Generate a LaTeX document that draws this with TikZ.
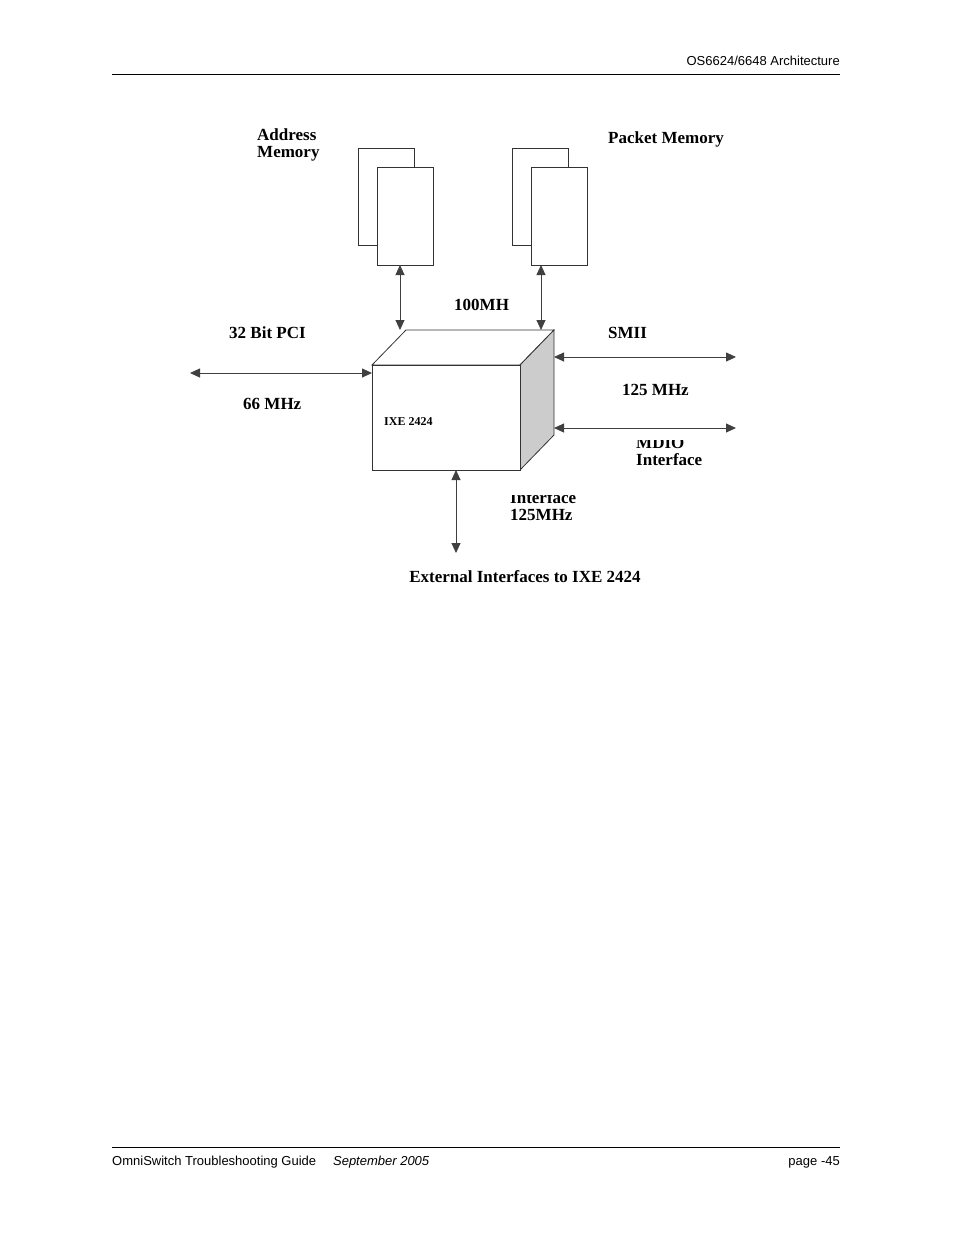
\documentclass[tikz,border=0pt]{standalone}
\usepackage{fontspec}
\setmainfont{Liberation Serif}
\newfontfamily\hdrfont{Liberation Sans}
\usetikzlibrary{arrows.meta}
\tikzset{
  lbl/.style={anchor=base west,font=\fontsize{17}{22}\selectfont\bfseries,align=left,inner sep=0pt},
  hdr/.style={font=\hdrfont\fontsize{13}{15}\selectfont,inner sep=0pt,anchor=base},
  mem/.style={draw=black!80,fill=white,line width=0.8pt},
  bus/.style={{Triangle[width=9pt,length=10pt]}-{Triangle[width=9pt,length=10pt]},draw=black!75,line width=0.9pt}
}
\begin{document}
\begin{tikzpicture}[x=1pt,y=-1pt]
  \useasboundingbox (0,0) rectangle (954,1235);

  % page header and footer
  \node[hdr,anchor=base east] (head) at (840,65) {OS6624/6648 Architecture};
  \draw[line width=0.6pt] (112,74) -- (840,74);
  \draw[line width=0.6pt] (112,1147) -- (840,1147);
  \node[hdr,anchor=base west] (foot) at (112,1165) {OmniSwitch Troubleshooting Guide\hspace{1.3em}\itshape September 2005};
  \node[hdr,anchor=base east] (page) at (840,1165) {page -45};

  % memories
  \draw[mem] (358,148) rectangle (414,245);
  \draw[mem] (377,167) rectangle (433,265);
  \draw[mem] (512,148) rectangle (568,245);
  \draw[mem] (531,167) rectangle (587,265);
  \coordinate (am) at (400,265);
  \coordinate (pm) at (541,265);

  % the chip
  \draw[mem] (372,365) -- (406,330) -- (554,330) -- (520,365) -- cycle;
  \draw[mem,fill=black!20] (520,365) -- (554,330) -- (554,435) -- (520,470) -- cycle;
  \draw[mem] (372,365) rectangle (520,470);
  \node[lbl,font=\fontsize{12}{14}\selectfont\bfseries] (chip) at (384,425) {IXE 2424};
  \coordinate (ct1) at (400,330);
  \coordinate (ct2) at (541,330);
  \coordinate (cl) at (372,373);
  \coordinate (cr1) at (554,357);
  \coordinate (cr2) at (554,428);
  \coordinate (cb) at (456,470);
  \coordinate (pci) at (190,373);
  \coordinate (smii) at (736,357);
  \coordinate (mdio) at (736,428);
  \coordinate (gmii) at (456,553);

  \draw[bus] (am) -- (ct1);
  \draw[bus] (pm) -- (ct2);
  \draw[bus] (pci) -- (cl);
  \draw[bus] (cr1) -- (smii);
  \draw[bus] (cr2) -- (mdio);
  \draw[bus] (cb) -- (gmii);

  % labels
  \node[lbl] (amlbl) at (257,157) {Address\\[-5pt]Memory};
  \node[lbl] (pmlbl) at (608,143) {Packet Memory};
  \node[lbl] (mhz100) at (454,310) {100MH};
  \node[lbl] (pcilbl) at (229,338) {32 Bit PCI};
  \node[lbl] (mhz66) at (243,409) {66 MHz};
  \node[lbl] (smiilbl) at (608,338) {SMII};
  \node[lbl] (mhz125) at (622,395) {125 MHz};
  \begin{scope}
    \clip (600,440) rectangle (760,479);
    \node[lbl] (mdiolbl) at (636,465) {MDIO\\[-5pt]Interface};
  \end{scope}
  \begin{scope}
    \clip (500,495) rectangle (700,551);
    \node[lbl] (gmiilbl) at (510,520) {GM11/10 Bit\\[-5pt]Interface\\[-5pt]125MHz};
  \end{scope}
  \node[lbl,anchor=base] (title) at (525,582) {External Interfaces to IXE 2424};
\end{tikzpicture}
\end{document}
